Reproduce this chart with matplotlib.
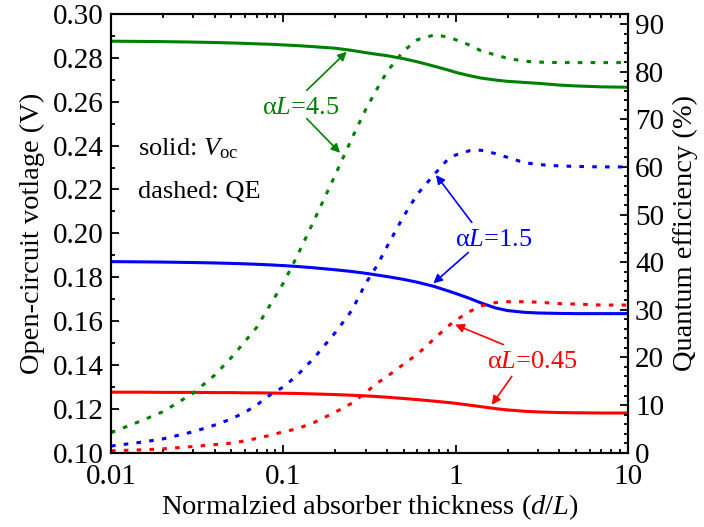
import matplotlib
matplotlib.use("Agg")
import matplotlib.pyplot as plt
from matplotlib.ticker import (MultipleLocator, LogLocator, NullFormatter, FixedLocator,
                               FixedFormatter, FormatStrFormatter)

plt.rcParams['font.family'] = ['Liberation Serif', 'DejaVu Serif']
plt.rcParams['mathtext.fontset'] = 'custom'
plt.rcParams['mathtext.rm'] = 'Liberation Serif'
plt.rcParams['mathtext.it'] = 'Liberation Serif:italic'

thickness = [0.01, 0.015, 0.02, 0.03, 0.04, 0.05, 0.06, 0.07, 0.085, 0.1, 0.12, 0.15,
             0.2, 0.25, 0.3, 0.35, 0.4, 0.5, 0.6, 0.75, 0.9, 1.0, 1.2, 1.4, 1.7, 2.0,
             2.5, 3.0, 4.0, 5.0, 7.0, 10.0]

voc_45 = [0.2876, 0.2875, 0.2874, 0.2872, 0.2870, 0.2868, 0.2866, 0.2864, 0.2862, 0.2859,
          0.2856, 0.2851, 0.2844, 0.2834, 0.2824, 0.2816, 0.2810, 0.2796, 0.2782, 0.2762,
          0.2745, 0.2734, 0.2719, 0.2708, 0.2699, 0.2693, 0.2688, 0.2684, 0.2676, 0.2672,
          0.2668, 0.2666]
voc_15 = [0.1871, 0.1870, 0.1869, 0.1867, 0.1865, 0.1863, 0.1861, 0.1859, 0.1856, 0.1853,
          0.1849, 0.1843, 0.1834, 0.1826, 0.1818, 0.1810, 0.1803, 0.1790, 0.1777, 0.1758,
          0.1738, 0.1726, 0.1704, 0.1683, 0.1660, 0.1648, 0.1640, 0.1637, 0.1635, 0.1634,
          0.1634, 0.1634]
voc_045 = [0.1276, 0.1276, 0.1275, 0.1275, 0.1274, 0.1274, 0.1273, 0.1273, 0.1272, 0.1271,
           0.1270, 0.1268, 0.1265, 0.1262, 0.1259, 0.1256, 0.1253, 0.1247, 0.1242, 0.1235,
           0.1229, 0.1225, 0.1217, 0.1210, 0.1201, 0.1195, 0.1189, 0.1186, 0.1183, 0.1182,
           0.1181, 0.1181]

qe_45 = [4.2, 6.7, 8.6, 12.5, 16.3, 20.0, 23.4, 26.3, 31.4, 35.6, 41.2, 48.6,
         58.3, 66.0, 72.0, 76.4, 80.0, 84.4, 86.7, 87.7, 87.3, 86.7, 85.6, 84.4, 83.5, 82.8,
         82.2, 82.0, 81.9, 81.9, 81.9, 81.9]
qe_15 = [1.4, 2.2, 2.9, 4.4, 5.8, 7.1, 8.5, 10.0, 12.3, 13.8, 16.2, 19.8,
         25.2, 29.9, 35.5, 39.3, 43.3, 49.7, 54.3, 58.4, 61.6, 62.5, 63.4, 63.5, 62.8, 62.0,
         60.9, 60.5, 60.2, 60.1, 60.0, 60.0]
qe_045 = [0.4, 0.6, 0.8, 1.3, 1.7, 2.0, 2.5, 3.0, 3.7, 4.4, 5.0, 6.3,
          8.5, 10.4, 12.6, 14.6, 16.0, 18.6, 20.7, 23.9, 26.5, 27.8, 29.6, 30.8, 31.5, 31.7,
          31.7, 31.6, 31.3, 31.2, 31.0, 31.0]

green = '#008000'
blue = '#0000ff'
red = '#ff0000'

fig = plt.figure(figsize=(7.04, 5.27), dpi=100)
ax = fig.add_axes([111/704, 1-452.7/527, (628-111)/704, (452.7-14)/527])
ax2 = ax.twinx()

lw = 2.2
dot = (0, (1.5, 2.7))
ax.plot(thickness, voc_45, color=green, lw=lw)
ax.plot(thickness, voc_15, color=blue, lw=lw)
ax.plot(thickness, voc_045, color=red, lw=lw)
ax2.plot(thickness, qe_45, color=green, lw=lw, ls=dot)
ax2.plot(thickness, qe_15, color=blue, lw=lw, ls=dot)
ax2.plot(thickness, qe_045, color=red, lw=lw, ls=dot)

ax.set_xscale('log')
ax.set_xlim(0.01, 10)
ax.set_ylim(0.10, 0.30)
ax2.set_ylim(0, 92.1)

ax.xaxis.set_major_locator(FixedLocator([0.01, 0.1, 1, 10]))
ax.xaxis.set_major_formatter(FixedFormatter(['0.01', '0.1', '1', '10']))
ax.xaxis.set_minor_locator(LogLocator(base=10, subs=range(2, 10), numticks=20))
ax.xaxis.set_minor_formatter(NullFormatter())
ax.yaxis.set_major_locator(MultipleLocator(0.02))
ax.yaxis.set_minor_locator(MultipleLocator(0.01))
ax.yaxis.set_major_formatter(FormatStrFormatter('%.2f'))
ax2.yaxis.set_major_locator(MultipleLocator(10))
ax2.yaxis.set_minor_locator(MultipleLocator(2))

tfs = 21
lfs = 20.5
afs = 19
ax.tick_params(which='both', direction='in', top=True, right=False, labelsize=tfs, width=1.3)
ax.tick_params(which='major', length=6)
ax.tick_params(which='minor', length=3)
ax.tick_params(axis='y', pad=5)
ax.tick_params(axis='x', pad=8)
ax2.tick_params(which='both', direction='in', labelsize=tfs, width=1.3, pad=5)
ax2.tick_params(which='major', length=6)
ax2.tick_params(which='minor', length=3)
for a in (ax, ax2):
    for s in a.spines.values():
        s.set_linewidth(1.5)

ax.set_xlabel('Normalzied absorber thickness ($\\mathit{d}$/$\\mathit{L}$)', fontsize=lfs, labelpad=2)
ax.set_ylabel('Open-circuit votlage (V)', fontsize=lfs, labelpad=6)
ax2.set_ylabel('Quantum efficiency (%)', fontsize=lfs, labelpad=6)

ax.text(0.01435, 0.2355, 'solid: $\\mathit{V}_{\\rm oc}$', fontsize=afs, va='baseline', ha='left')
ax.text(0.01435, 0.2160, 'dashed: QE', fontsize=afs, va='baseline', ha='left')


def aprops(c):
    return dict(arrowstyle='-|>', color=c, lw=1.2, mutation_scale=13, shrinkA=0, shrinkB=0)


ax.text(0.0749, 0.2546, 'α$\\mathit{L}$=4.5', color=green, fontsize=afs, ha='left', va='baseline')
ax.annotate('', xy=(0.2333, 0.2828), xytext=(0.1367, 0.2652), arrowprops=aprops(green))
ax.annotate('', xy=(0.2134, 0.2367), xytext=(0.1367, 0.2523), arrowprops=aprops(green))

ax.text(0.992, 0.1943, 'α$\\mathit{L}$=1.5', color=blue, fontsize=afs, ha='left', va='baseline')
ax.annotate('', xy=(0.769, 0.2266), xytext=(1.240, 0.2050), arrowprops=aprops(blue))
ax.annotate('', xy=(0.742, 0.1772), xytext=(1.185, 0.1913), arrowprops=aprops(blue))

ax.text(1.515, 0.1386, 'α$\\mathit{L}$=0.45', color=red, fontsize=afs, ha='left', va='baseline')
ax.annotate('', xy=(0.992, 0.1584), xytext=(1.891, 0.1493), arrowprops=aprops(red))
ax.annotate('', xy=(1.62, 0.1218), xytext=(2.117, 0.1348), arrowprops=aprops(red))

fig.savefig('out.png', dpi=100)
